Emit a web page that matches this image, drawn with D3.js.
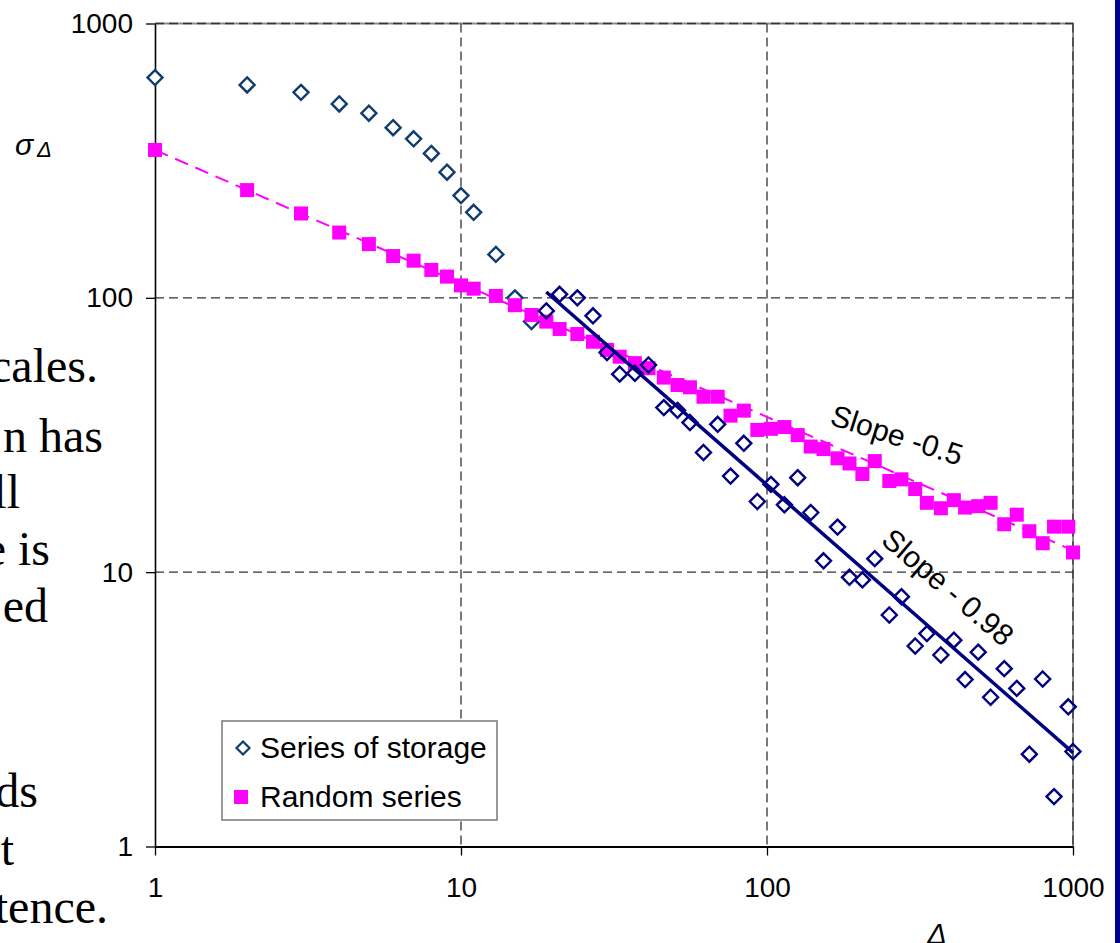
<!DOCTYPE html>
<html>
<head>
<meta charset="utf-8">
<script src="https://cdn.jsdelivr.net/npm/d3@7"></script>
<style>
  html, body { margin: 0; padding: 0; background: #fff; }
  svg { display: block; }
</style>
</head>
<body>
<svg id="chart" width="1120" height="943"></svg>
<script>
// ---- data ----
const deltas = [1,2,3,4,5,6,7,8,9,10,11,13,15,17,19,21,24,27,30,33,37,41,46,51,56,62,69,76,84,93,103,114,126,139,153,170,186,205,225,251,275,305,333,370,408,444,490,538,596,655,720,796,867,965,1000];
const storageSigma = [635,597,561,509,471,417,380,336,287,236,205,144,100,82,89.6,103,100,86,63.2,52.7,53.1,56.9,39.8,38.9,35.1,27.3,34.6,22.4,29.5,18.1,20.9,17.6,22.1,16.5,11.0,14.6,9.58,9.37,11.2,6.98,8.14,5.38,5.97,4.99,5.65,4.06,5.11,3.50,4.45,3.77,2.17,4.08,1.52,3.23,2.22];
const randomSigma = [346,247,203,173,157,142,136.6,126.4,119.5,111,108,101.6,94,86.6,81.9,77,73.8,69.2,64.6,61,57.8,55.4,51.2,48.1,47.2,43.6,43.6,37.2,38.8,33.0,33.3,33.8,31.6,28.7,28.1,26.0,24.9,22.8,25.4,21.5,21.8,20.1,17.9,17.1,18.3,17.2,17.4,17.9,14.95,16.2,14.1,12.75,14.65,14.65,11.8];
const storageFitX = [19, 1000];
const storageFitY = [105, 2.2];
const randomFitX = [1, 1000];
const randomFitY = [346, 12];
const tickValues = [1, 10, 100, 1000];
const seriesNames = ["Series of storage", "Random series"];
const slopeLabels = ["Slope -0.5", "Slope - 0.98"];
const pageFragments = ["cales.", "n has", "ll", "e is", "ed", "ds", "t", "tence."];

(function () {
// ---- layout ----
const svg = d3.select("#chart");
const W = 1120, H = 943;
const pL = 155, pR = 1073, pT = 23.5, pB = 846.5;
const x = d3.scaleLog().domain([1, 1000]).range([pL, pR]);
const y = d3.scaleLog().domain([1, 1000]).range([pB, pT]);
const sans = "'Liberation Sans', Arial, sans-serif";

// background document text fragments (cropped at left edge)
const fragEnd = [98, 103, 20, 50, 48, 38, 14, 108];
const fragBase = [382, 452, 508, 565, 622, 807, 865, 923];
svg.append("g").selectAll("text").data(pageFragments).join("text")
  .attr("x", (d, i) => fragEnd[i])
  .attr("y", (d, i) => fragBase[i])
  .attr("text-anchor", "end")
  .attr("font-family", "'Liberation Serif', 'DejaVu Serif', serif")
  .attr("font-size", 48)
  .attr("fill", "#000")
  .text(d => d);

// right edge bar
svg.append("rect").attr("x", 1115).attr("y", 0).attr("width", 5).attr("height", H).attr("fill", "#000090");

// plot border (gray) on top & right
svg.append("path")
  .attr("d", `M${pL},${pT}H${pR}V${pB}`)
  .attr("fill", "none").attr("stroke", "#8c8c8c").attr("stroke-width", 2);

// grid lines
const grid = svg.append("g").attr("stroke", "#333").attr("stroke-width", 1.3).attr("stroke-dasharray", "9,5").attr("fill", "none");
grid.selectAll("line.v").data(tickValues.slice(1)).join("line")
  .attr("x1", d => x(d)).attr("x2", d => x(d)).attr("y1", pT).attr("y2", pB);
grid.selectAll("line.h").data(tickValues.slice(1)).join("line")
  .attr("y1", d => y(d)).attr("y2", d => y(d)).attr("x1", pL).attr("x2", pR);

// axes
const yAxis = svg.append("g").attr("transform", `translate(${pL},0)`)
  .call(d3.axisLeft(y).tickValues(tickValues).tickFormat(d3.format("d")).tickSize(9).tickPadding(13).tickSizeOuter(0));
const xAxis = svg.append("g").attr("transform", `translate(0,${pB})`)
  .call(d3.axisBottom(x).tickValues(tickValues).tickFormat(d3.format("d")).tickSize(9).tickPadding(22).tickSizeOuter(0));
[yAxis, xAxis].forEach(g => {
  g.selectAll("text").attr("font-family", sans).attr("font-size", 28).attr("fill", "#000");
  g.selectAll("line").attr("stroke", "#000").attr("stroke-width", 1.3);
});
yAxis.select(".domain").attr("stroke", "#000").attr("stroke-width", 1.6);
xAxis.select(".domain").attr("stroke", "#000").attr("stroke-width", 2.2);

// axis titles
const yt = svg.append("text").attr("x", 15).attr("y", 155).attr("font-family", sans).attr("font-style", "italic").attr("fill", "#000");
yt.append("tspan").attr("font-size", 30).text("σ");
yt.append("tspan").attr("font-size", 22).attr("dx", 4).attr("dy", 2).text("Δ");
svg.append("text").attr("x", 937).attr("y", 944).attr("text-anchor", "middle")
  .attr("font-family", sans).attr("font-style", "italic").attr("font-size", 29).text("Δ");

const pts = deltas.map((d, i) => ({x: d, s: storageSigma[i], r: randomSigma[i]}));
const diamond = s => `M0,${-s}L${s},0L0,${s}L${-s},0Z`;

// early storage diamonds (below squares)
const fitStart = storageFitX[0];
svg.append("g").selectAll("path").data(pts.filter(p => p.x < fitStart)).join("path")
  .attr("d", diamond(7.5))
  .attr("transform", p => `translate(${x(p.x)},${y(p.s)})`)
  .attr("fill", "#fff").attr("stroke", "#0f3d6e").attr("stroke-width", 2.4);

// random fit (dashed magenta)
const line = d3.line().x(d => x(d[0])).y(d => y(d[1]));
svg.append("path").attr("d", line(randomFitX.map((v, i) => [v, randomFitY[i]])))
  .attr("fill", "none").attr("stroke", "#ff00ff").attr("stroke-width", 2).attr("stroke-dasharray", "14,8");

// random squares
svg.append("g").selectAll("rect").data(pts).join("rect")
  .attr("x", p => x(p.x) - 7).attr("y", p => y(p.r) - 7)
  .attr("width", 14).attr("height", 14).attr("fill", "#ff00ff");

// later storage diamonds (on top)
svg.append("g").selectAll("path").data(pts.filter(p => p.x >= fitStart)).join("path")
  .attr("d", diamond(7.5))
  .attr("transform", p => `translate(${x(p.x)},${y(p.s)})`)
  .attr("fill", "none").attr("stroke", "#000080").attr("stroke-width", 2.4);

// storage fit line
svg.append("path").attr("d", line(storageFitX.map((v, i) => [v, storageFitY[i]])))
  .attr("fill", "none").attr("stroke", "#000080").attr("stroke-width", 3.5);

// slope labels
const slopePos = [[897, 435, 17.7], [948, 587, 40.5]];
svg.append("g").selectAll("text").data(slopeLabels).join("text")
  .attr("transform", (d, i) => `translate(${slopePos[i][0]},${slopePos[i][1]}) rotate(${slopePos[i][2]})`)
  .attr("text-anchor", "middle").attr("dy", "0.35em")
  .attr("font-family", sans).attr("font-size", 30).attr("fill", "#000")
  .text(d => d);

// legend
const lg = svg.append("g");
lg.append("rect").attr("x", 222).attr("y", 721).attr("width", 275).attr("height", 99)
  .attr("fill", "#fff").attr("stroke", "#808080").attr("stroke-width", 1.6);
lg.append("path").attr("d", diamond(6.5)).attr("transform", "translate(243,748)")
  .attr("fill", "#fff").attr("stroke", "#0f3d6e").attr("stroke-width", 2.2);
lg.append("rect").attr("x", 234).attr("y", 790).attr("width", 14).attr("height", 14).attr("fill", "#ff00ff");
lg.selectAll("text").data(seriesNames).join("text")
  .attr("x", 260).attr("y", (d, i) => [747, 796][i]).attr("dy", "0.35em")
  .attr("font-family", sans).attr("font-size", 30).attr("fill", "#000")
  .text(d => d);
})();
</script>
</body>
</html>
